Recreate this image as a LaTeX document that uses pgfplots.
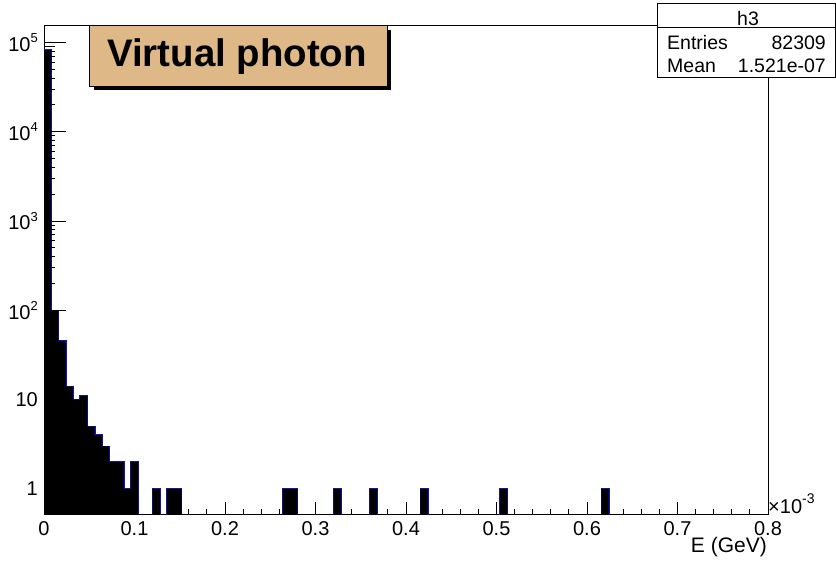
\documentclass[border=0pt]{standalone}
\usepackage{pgfplots}
\pgfplotsset{compat=1.18}
\usepackage{pgfplotstable}
\usepackage{fontspec}
\setmainfont{Liberation Sans}

\definecolor{titlefill}{RGB}{222,184,135}
\definecolor{histline}{RGB}{20,20,170}

% h3: photon energy, 100 bins of width 0.008 (x in units of 1e-3 GeV); empty bins omitted
\pgfplotstableread{
lo    count
0.000 82102
0.008 98
0.016 45
0.024 14
0.032 10
0.040 11
0.048 5
0.056 4
0.064 3
0.072 2
0.080 2
0.088 1
0.096 2
0.120 1
0.136 1
0.144 1
0.264 1
0.272 1
0.320 1
0.360 1
0.416 1
0.504 1
0.616 1
}\hdata

\newcommand{\tpow}[1]{10\raisebox{0.42em}{\fontsize{13}{13}\selectfont #1}}
\newcommand{\fs}[1]{\fontsize{#1}{#1}\selectfont}

\begin{document}
\begin{tikzpicture}
\useasboundingbox (0pt,0pt) rectangle (836pt,561pt);
\fill[white] (0pt,0pt) rectangle (836pt,561pt);

\begin{axis}[
  at={(44pt,46pt)}, anchor=south west,
  scale only axis, width=724pt, height=489pt,
  xmin=0, xmax=0.8,
  ymode=log, ymin=0.512, ymax=1.53e5, log origin=infty,
  axis line style={black, line width=1pt},
  tick align=inside,
  xtick pos=bottom, ytick pos=left,
  xtick={0,0.1,0.2,0.3,0.4,0.5,0.6,0.7,0.8},
  xticklabels={0,0.1,0.2,0.3,0.4,0.5,0.6,0.7,0.8},
  minor x tick num=4,
  major tick length=13pt, minor tick length=6.5pt,
  xtick style={black, line width=1pt},
  ytick={1,10,100,1000,10000,100000},
  yticklabels={1,10,\tpow{2},\tpow{3},\tpow{4},\tpow{5}},
  ytick style={draw=none},
  minor ytick={},
  xticklabel style={font=\fs{20}, inner sep=0pt, yshift=-6pt},
  yticklabel style={font=\fs{20}, inner sep=0pt, xshift=-6pt},
]
% filled bins with outline, then fill again so only the outer contour stays visible
\addplot[ybar, bar width=0.008, bar shift=0pt, fill=black, draw=histline, line width=1.8pt]
  table[x expr=\thisrow{lo}+0.004, y=count]{\hdata};
\addplot[ybar, bar width=0.008, bar shift=0pt, fill=black, draw=none]
  table[x expr=\thisrow{lo}+0.004, y=count]{\hdata};
\end{axis}

% y ticks (longer than the x ticks)
\begin{axis}[
  at={(44pt,46pt)}, anchor=south west,
  scale only axis, width=724pt, height=489pt,
  xmin=0, xmax=0.8,
  ymode=log, ymin=0.512, ymax=1.53e5,
  axis line style={draw=none},
  xtick=\empty,
  ytick={1,10,100,1000,10000,100000},
  yticklabels={},
  ytick pos=left, tick align=inside,
  major tick length=22pt, minor tick length=11pt,
  tick style={black, line width=1pt},
]
\end{axis}

% x-axis exponent and title
\node[anchor=base west, inner sep=0pt] at (768pt,47pt)
  {\fs{20}×10\raisebox{0.5em}{\fs{14}-3}};
\node[anchor=base east, inner sep=0pt] at (767pt,8pt) {\fs{21}E (GeV)};

% title box with shadow
\fill[black] (93.5pt,470.5pt) rectangle (391pt,531pt);
\filldraw[fill=titlefill, draw=black, line width=1pt] (89.5pt,474.5pt) rectangle (387pt,535pt);
\node[anchor=base, inner sep=0pt] at (237pt,494.3pt) {\fs{38.4}\bfseries Virtual photon};

% statistics box
\filldraw[fill=white, draw=black, line width=1pt] (657.5pt,483pt) rectangle (835.5pt,557.5pt);
\draw[black, line width=1pt] (657.5pt,533.7pt) -- (835.5pt,533.7pt);
\node[anchor=base, inner sep=0pt] at (748pt,535.5pt) {\fs{19.5}h3};
\node[anchor=base west, inner sep=0pt] at (667pt,511.7pt) {\fs{19.5}Entries};
\node[anchor=base east, inner sep=0pt] at (826pt,511.7pt) {\fs{19.5}82309};
\node[anchor=base west, inner sep=0pt] at (667pt,488.3pt) {\fs{19.5}Mean};
\node[anchor=base east, inner sep=0pt] at (826pt,488.3pt) {\fs{19.5}1.521e-07};
\end{tikzpicture}
\end{document}
